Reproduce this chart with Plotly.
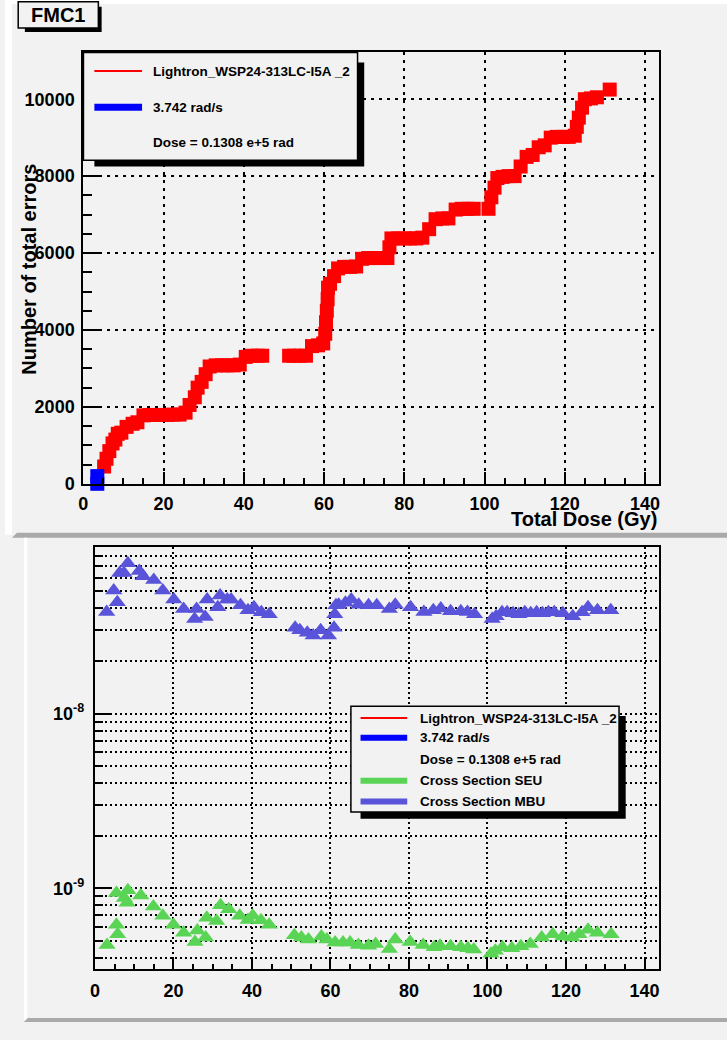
import plotly.graph_objects as go

# ---------------- data ----------------
red_x = [5.2, 5.8, 6.5, 7.3, 8.0, 8.6, 9.5, 10.8, 12.3, 13.5, 15.0, 16.5, 18.0, 19.5, 21.0,
         22.5, 24.0, 25.5, 26.5, 27.8, 28.5, 29.5, 30.5, 31.5, 33.0, 34.5, 36.0, 37.5, 39.0,
         40.5, 42.0, 43.5, 44.6, 51.3, 52.5, 54.0, 55.5, 57.0, 58.5, 59.8, 60.3, 60.5, 60.7,
         60.9, 61.0, 61.5, 62.5, 63.5, 65.0, 66.5, 68.0, 69.5, 71.0, 72.5, 74.0, 75.8, 76.3,
         76.8, 78.5, 80.0, 81.5, 83.0, 84.5, 86.2, 87.8, 89.5, 91.0, 92.8, 94.3, 95.8, 97.3,
         101.0, 101.7, 102.5, 103.2, 104.5, 106.0, 107.5, 109.0, 110.5, 112.0, 113.5, 115.0,
         116.5, 118.0, 119.5, 121.0, 122.5, 123.0, 123.5, 124.3, 125.0, 126.5, 128.0, 131.2]
red_y = [450, 650, 850, 1050, 1150, 1300, 1330, 1480, 1560, 1600, 1780, 1790, 1790, 1790, 1790,
         1800, 1800, 1850, 2050, 2250, 2500, 2650, 2850, 3050, 3080, 3080, 3080, 3080, 3100,
         3300, 3330, 3330, 3330, 3330, 3330, 3330, 3330, 3580, 3600, 3650, 3900, 4200, 4500,
         4800, 5100, 5200, 5400, 5600, 5640, 5640, 5650, 5850, 5870, 5870, 5870, 5870, 6150,
         6380, 6380, 6380, 6380, 6380, 6400, 6620, 6880, 6900, 6900, 7130, 7150, 7150, 7150,
         7150, 7450, 7700, 7950, 7980, 8000, 8000, 8250, 8500, 8550, 8750, 8800,
         9000, 9020, 9020, 9020, 9050, 9280, 9520, 9780, 10000, 10020, 10050, 10250]

blue_x = [3.5, 3.5]
blue_y = [0, 200]

mbu_x = [3.0, 4.8, 5.7, 6.3, 7.4, 8.4, 11.3, 12.3, 15.0, 17.3, 20.1, 22.6, 25.4, 25.9, 28.1,
         28.6, 31.3, 31.9, 33.7, 34.7, 37.1, 39.0, 40.5, 42.4, 44.4, 51.0, 52.2, 54.1, 55.6,
         57.5, 59.5, 60.9, 61.1, 61.4, 62.1, 63.8, 65.3, 67.2, 69.7, 71.8, 75.0, 76.5, 80.4,
         83.8, 86.2, 88.1, 90.6, 93.2, 94.9, 96.7, 101.2, 102.2, 103.7, 105.0, 106.5, 108.0,
         109.5, 111.0, 112.5, 114.0, 115.5, 117.0, 119.2, 121.7, 124.1, 125.6, 128.0, 131.4]
mbu_y = [3.81e-8, 5.06e-8, 4.34e-8, 6.37e-8, 6.37e-8, 7.24e-8, 6.55e-8, 6.1e-8, 5.82e-8,
         5.06e-8, 4.5e-8, 3.96e-8, 3.48e-8, 3.96e-8, 3.57e-8, 4.5e-8, 4.06e-8, 4.74e-8,
         4.5e-8, 4.5e-8, 4.17e-8, 3.9e-8, 4.06e-8, 3.8e-8, 3.7e-8, 3.1e-8, 3.0e-8, 2.9e-8,
         2.8e-8, 3.0e-8, 2.8e-8, 3.1e-8, 3.7e-8, 4.17e-8, 4.2e-8, 4.3e-8, 4.5e-8, 4.2e-8,
         4.17e-8, 4.17e-8, 3.96e-8, 4.2e-8, 4.06e-8, 3.81e-8, 3.9e-8, 3.99e-8, 3.85e-8,
         3.85e-8, 3.81e-8, 3.7e-8, 3.48e-8, 3.6e-8, 3.8e-8, 3.8e-8, 3.75e-8, 3.7e-8, 3.8e-8,
         3.75e-8, 3.8e-8, 3.75e-8, 3.8e-8, 3.8e-8, 3.75e-8, 3.6e-8, 3.8e-8, 4.06e-8, 3.9e-8,
         3.9e-8]

seu_x = [3.1, 5.5, 5.8, 5.5, 7.5, 8.2, 8.4, 11.7, 14.9, 17.3, 20.0, 22.6, 25.5, 26.1, 28.2,
         28.5, 31.0, 32.0, 34.1, 36.9, 39.0, 40.2, 42.3, 44.4, 50.8, 52.6, 54.4, 57.7, 59.1,
         61.2, 63.2, 65.0, 67.1, 69.7, 71.5, 75.0, 76.5, 80.3, 83.6, 86.4, 87.9, 90.6, 93.2,
         95.0, 96.5, 100.9, 102.0, 103.8, 106.2, 108.5, 110.9, 113.8, 116.6, 119.2, 121.5,
         123.3, 125.6, 128.0, 131.5]
seu_y = [4.75e-10, 6.2e-10, 5.46e-10, 9.4e-10, 8.8e-10, 8.28e-10, 9.74e-10, 9.1e-10, 7.87e-10,
         6.98e-10, 6.2e-10, 5.58e-10, 4.94e-10, 5.75e-10, 5.23e-10, 6.78e-10, 6.5e-10, 8.0e-10,
         7.6e-10, 6.98e-10, 6.6e-10, 6.98e-10, 6.56e-10, 6.2e-10, 5.39e-10, 5.23e-10, 5.1e-10,
         5.3e-10, 5.1e-10, 4.9e-10, 4.9e-10, 4.9e-10, 4.75e-10, 4.7e-10, 4.8e-10, 4.5e-10,
         5.1e-10, 4.94e-10, 4.75e-10, 4.6e-10, 4.7e-10, 4.67e-10, 4.6e-10, 4.55e-10, 4.47e-10,
         4.22e-10, 4.4e-10, 4.6e-10, 4.55e-10, 4.67e-10, 4.8e-10, 5.23e-10, 5.46e-10, 5.3e-10,
         5.23e-10, 5.46e-10, 5.8e-10, 5.58e-10, 5.46e-10]

top_legend = ["Lightron_WSP24-313LC-I5A _2", "3.742 rad/s", "Dose = 0.1308 e+5 rad"]
bottom_legend = ["Lightron_WSP24-313LC-I5A _2", "3.742 rad/s", "Dose = 0.1308 e+5 rad",
                 "Cross Section SEU", "Cross Section MBU"]
pad_title = "FMC1"
x_title = "Total Dose (Gy)"
y_title = "Number of total errors"

# ---------------- style ----------------
W, H = 727, 1040
FONT = "Liberation Sans, Arial, Helvetica, sans-serif"
PAD = "#f2f2f2"
RED = "#ff0000"
BLUE = "#0000ff"
GREEN = "rgb(89,212,84)"
PURPLE = "rgb(89,84,217)"


def px(x):
    return x / W


def py(y):
    return 1 - y / H


fig = go.Figure()

fig.add_trace(go.Scatter(x=red_x, y=red_y, mode="markers", xaxis="x", yaxis="y",
                         marker=dict(symbol="square", size=14, color=RED, line=dict(width=0)),
                         cliponaxis=False, showlegend=False))
fig.add_trace(go.Scatter(x=blue_x, y=blue_y, mode="markers", xaxis="x", yaxis="y",
                         marker=dict(symbol="square", size=14, color=BLUE, line=dict(width=0)),
                         cliponaxis=False, showlegend=False))
fig.add_trace(go.Scatter(x=mbu_x, y=mbu_y, mode="markers", xaxis="x2", yaxis="y2",
                         marker=dict(symbol="triangle-up", size=15, color=PURPLE, line=dict(width=0)),
                         cliponaxis=False, showlegend=False))
fig.add_trace(go.Scatter(x=seu_x, y=seu_y, mode="markers", xaxis="x2", yaxis="y2",
                         marker=dict(symbol="triangle-up", size=15, color=GREEN, line=dict(width=0)),
                         cliponaxis=False, showlegend=False))

tickfont = dict(family=FONT, size=18, color="black", weight="bold")
common = dict(showline=True, linecolor="black", linewidth=2, mirror=True,
              ticks="inside", tickcolor="black", tickwidth=1.5, tickfont=tickfont,
              showgrid=True, gridcolor="black", gridwidth=1.5, zeroline=False)

minor_vals = []
for e in (-10, -9, -8):
    for m in range(2, 10):
        minor_vals.append(m * 10.0 ** e)

fig.update_layout(
    width=W, height=H, margin=dict(l=0, r=0, t=0, b=0),
    paper_bgcolor=PAD, plot_bgcolor=PAD, showlegend=False,
    font=dict(family=FONT, color="black"),
    xaxis=dict(domain=[px(78.8), px(659)], range=[0, 143.6], anchor="y",
               tickmode="linear", tick0=0, dtick=20, ticklen=12, griddash="3px,5px",
               tickformat="d", ticklabelstandoff=3,
               minor=dict(dtick=5, tick0=0, ticks="inside", ticklen=6, tickcolor="black",
                          tickwidth=1.5, showgrid=False), **common),
    yaxis=dict(domain=[py(488.5), py(52)], range=[0, 11240], anchor="x",
               tickmode="linear", tick0=0, dtick=2000, ticklen=18, griddash="3px,5px",
               tickformat="d", ticklabelstandoff=3,
               minor=dict(dtick=500, tick0=0, ticks="inside", ticklen=9, tickcolor="black",
                          tickwidth=1.5, showgrid=False), **common),
    xaxis2=dict(domain=[px(90.5), px(659)], range=[0, 143.8], anchor="y2",
                tickmode="linear", tick0=0, dtick=20, ticklen=12, griddash="2px,3px",
                tickformat="d", ticklabelstandoff=5,
                minor=dict(dtick=5, tick0=0, ticks="inside", ticklen=5, tickcolor="black",
                           tickwidth=1.5, showgrid=False), **common),
    yaxis2=dict(domain=[py(978), py(552.5)], type="log", range=[-9.459, -7.048], anchor="x2",
                tickmode="array", tickvals=[1e-9, 1e-8], ticklabelstandoff=5,
                ticktext=["10<sup>-9</sup>", "10<sup>-8</sup>"], ticklen=17, griddash="2px,3px",
                minor=dict(tickmode="array", tickvals=minor_vals, ticks="inside", ticklen=8,
                           tickcolor="black", tickwidth=1.5, showgrid=True, gridcolor="black",
                           gridwidth=1.5, griddash="2px,3px"), **common),
)

shapes = []


def rect(x0, y0, x1, y1, fill, line_w=0, layer="above"):
    shapes.append(dict(type="rect", xref="paper", yref="paper",
                       x0=px(x0), x1=px(x1), y0=py(y1), y1=py(y0),
                       fillcolor=fill, layer=layer,
                       line=dict(width=line_w, color="black")))


def poly(pts, fill, layer="below"):
    path = "M " + " L ".join(f"{px(a)},{py(b)}" for a, b in pts) + " Z"
    shapes.append(dict(type="path", xref="paper", yref="paper", path=path,
                       fillcolor=fill, line=dict(width=0), layer=layer))


def hline(x0, x1, y, color, w):
    shapes.append(dict(type="line", xref="paper", yref="paper",
                       x0=px(x0), x1=px(x1), y0=py(y), y1=py(y),
                       line=dict(color=color, width=w), layer="above"))


# pad borders
rect(0, 0, 7, 540, "white", layer="below")
rect(0, 0, W, 4, "white", layer="below")
poly([(12, 538), (W, 538), (W, 543), (7, 543)], "#aaaaaa")
rect(19, 543, 22.5, 1030, "white", layer="below")
poly([(23, 1028), (W, 1028), (W, 1032), (19, 1032)], "#aaaaaa")

# pad title box
rect(20, 6.7, 97.3, 32.3, "black")
rect(13.3, 1.7, 94, 28.3, PAD, 1.5)

# top legend
rect(90, 63, 361.7, 168, "black")
rect(79, 53, 355, 161.7, PAD, 1.5)
hline(90, 138, 71.7, RED, 2)
hline(90, 138, 108.3, BLUE, 7)

# bottom legend
rect(358, 723, 625, 826.7, "black")
rect(348.3, 713, 618.3, 820, PAD, 1.5)
hline(358, 405, 725, RED, 2)
hline(358, 405, 745, BLUE, 6)
hline(358, 405, 788.3, GREEN, 6)
hline(358, 405, 809.3, PURPLE, 6)

fig.update_layout(shapes=shapes)

ann = []


def text(x, y, s, size, xanchor="left", angle=0):
    ann.append(dict(x=px(x), y=py(y), xref="paper", yref="paper", text=s, showarrow=False,
                    xanchor=xanchor, yanchor="middle", textangle=angle,
                    font=dict(family=FONT, size=size, color="black", weight="bold")))


text(53.6, 15.5, pad_title, 20, xanchor="center")
for s, yy in zip(top_legend, [71.7, 108.3, 143.7]):
    text(146.7, yy, s, 13.5)
for s, yy in zip(bottom_legend, [725, 745, 766.7, 788.3, 809.3]):
    text(416, yy, s, 13.5)
text(659, 524, x_title, 20, xanchor="right")
text(24, 271.5, y_title, 20, xanchor="center", angle=-90)

fig.update_layout(annotations=ann)

fig.write_html("out.html", config={"displayModeBar": False},
               post_script="document.body.style.margin='0';document.body.style.overflow='hidden';")
